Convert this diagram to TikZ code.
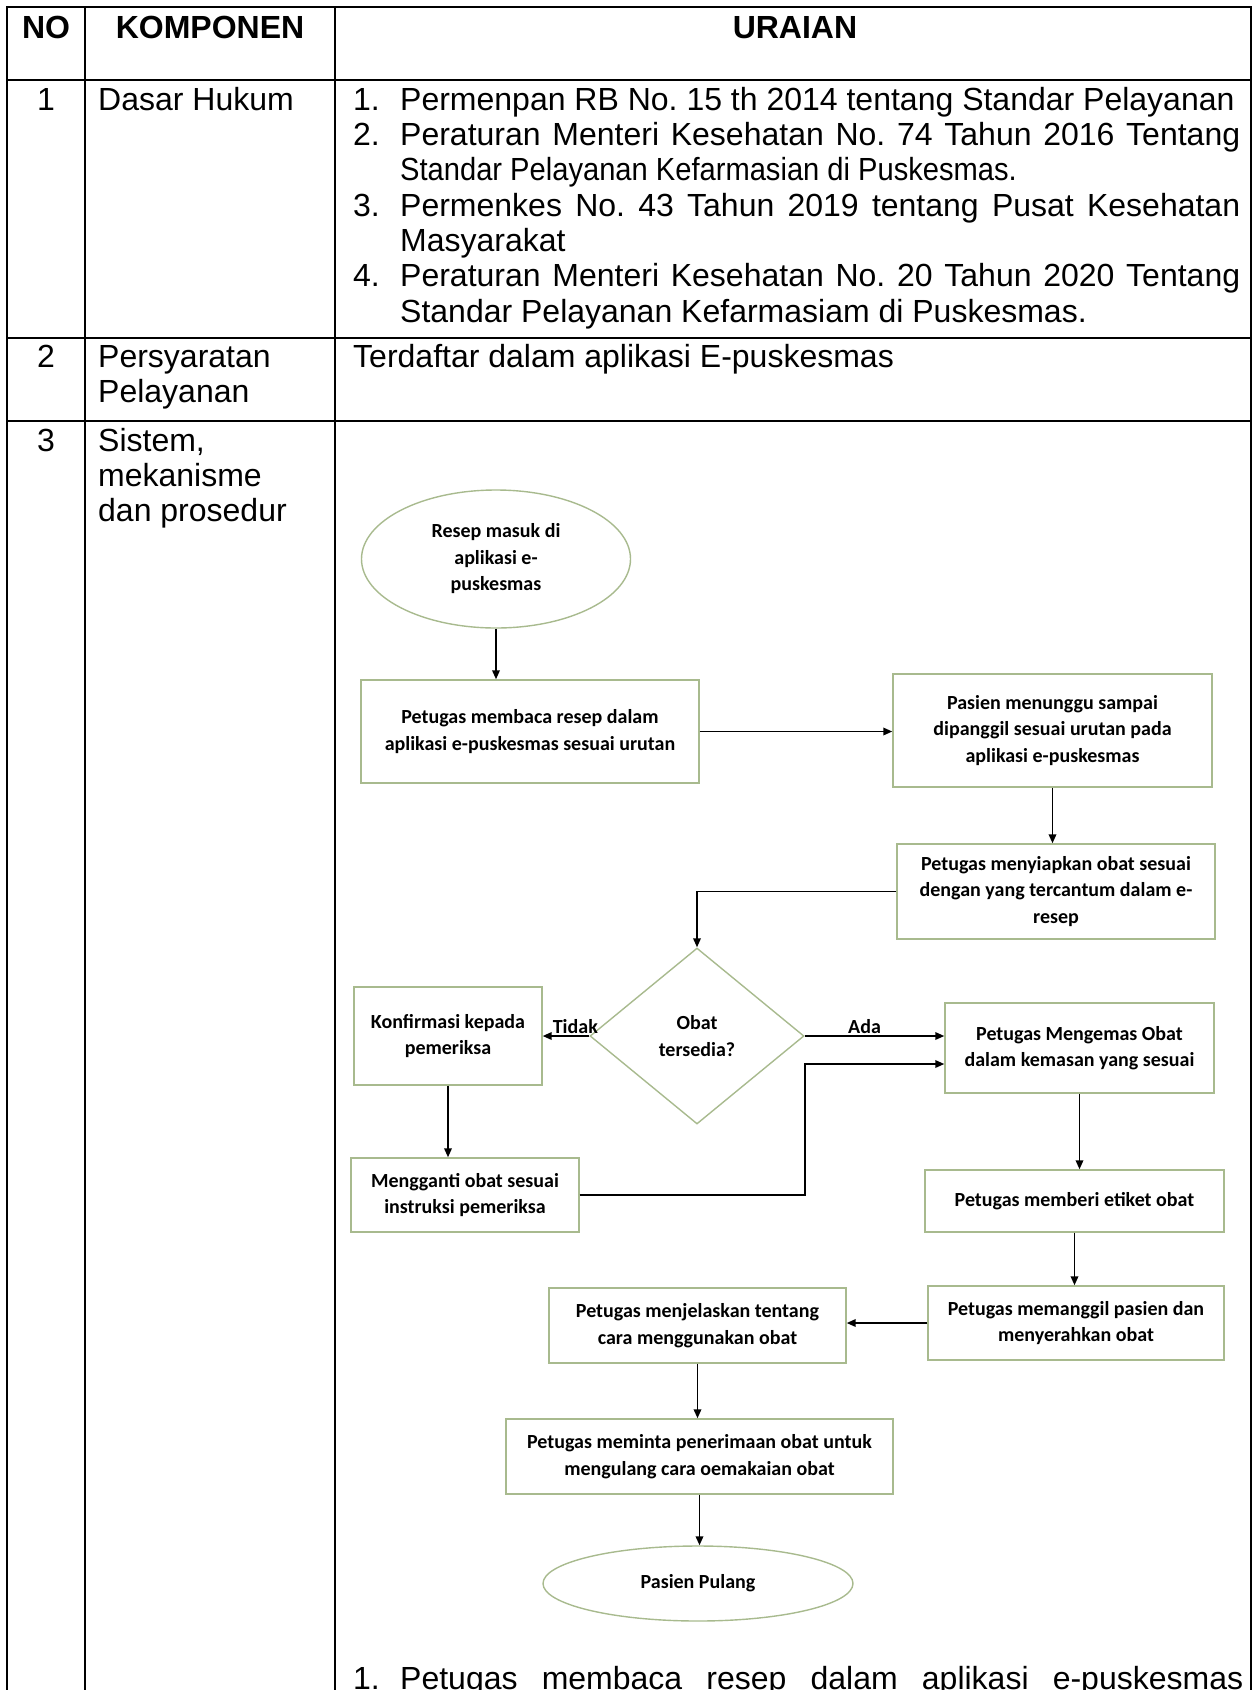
\documentclass[tikz,border=0pt]{standalone}
\usepackage{xcolor}
\usepackage{fontspec}
\setmainfont{Liberation Sans}
\newfontfamily\flowfont{Carlito}
\usepackage{tikz}
\usetikzlibrary{arrows.meta,positioning,shapes.geometric,calc}
\definecolor{flowline}{RGB}{168,186,142}
\frenchspacing

\begin{document}
\begin{tikzpicture}[
  x=1pt, y=-1pt,
  grid/.style={line width=2.2pt, black},
  head/.style={anchor=base, inner sep=0pt, font=\fontsize{32}{35.3}\selectfont\bfseries},
  cell/.style={anchor=base west, inner sep=0pt, font=\fontsize{32}{35.3}\selectfont},
  num/.style={anchor=base, inner sep=0pt, font=\fontsize{32}{35.3}\selectfont},
  box/.style={draw=flowline, line width=1.4pt, align=center, inner sep=2pt, font=\flowfont\bfseries\fontsize{20}{26.5}\selectfont},
  oval/.style={box, ellipse},
  choice/.style={box, diamond},
  arr/.style={-{Triangle[length=9pt, width=7.5pt]}, line width=1.8pt},
  lbl/.style={font=\flowfont\bfseries\fontsize{20}{24}\selectfont, inner sep=1pt}
]
\useasboundingbox (0,0) rectangle (1257,1690);

% Table grid
\draw[grid] (7,1700) -- (7,7) -- (1251,7) -- (1251,1700);
\draw[grid] (85,7) -- (85,1700);
\draw[grid] (335,7) -- (335,1700);
\draw[grid] (7,80) -- (1251,80);
\draw[grid] (7,338) -- (1251,338);
\draw[grid] (7,421) -- (1251,421);

% Header
\node[head] (hNo) at (46,38) {NO};
\node[head] (hKomp) at (210,38) {KOMPONEN};
\node[head] (hUrai) at (795,38) {URAIAN};

% Row 1: Dasar Hukum
\node[num] (no1) at (46,110) {1};
\node[cell] (komp1) at (98,110) {Dasar Hukum};
\node[cell] (i1) at (353,110) {1.};
\node[cell] (t1) at (400,110) {Permenpan RB No. 15 th 2014 tentang Standar Pelayanan};
\node[cell] (i2) at (353,145.3) {2.};
\node[cell] (t2) at (400,145.3) {\makebox[840pt][s]{Peraturan Menteri Kesehatan No. 74 Tahun 2016 Tentang}};
\node[cell] (t2b) at (400,180.7) {\scalebox{0.91}[1]{Standar Pelayanan Kefarmasian di Puskesmas.}};
\node[cell] (i3) at (353,216) {3.};
\node[cell] (t3) at (400,216) {\makebox[840pt][s]{Permenkes No. 43 Tahun 2019 tentang Pusat Kesehatan}};
\node[cell] (t3b) at (400,251.3) {Masyarakat};
\node[cell] (i4) at (353,286.7) {4.};
\node[cell] (t4) at (400,286.7) {\makebox[840pt][s]{Peraturan Menteri Kesehatan No. 20 Tahun 2020 Tentang}};
\node[cell] (t4b) at (400,322) {Standar Pelayanan Kefarmasiam di Puskesmas.};

% Row 2: Persyaratan
\node[num] (no2) at (46,367) {2};
\node[cell] (komp2) at (98,367) {Persyaratan};
\node[cell] (komp2b) at (98,402.3) {Pelayanan};
\node[cell] (syarat) at (353,367) {Terdaftar dalam aplikasi E-puskesmas};

% Row 3: Sistem, mekanisme dan prosedur
\node[num] (no3) at (46,451) {3};
\node[cell] (komp3) at (98,451) {Sistem,};
\node[cell] (komp3b) at (98,486.3) {mekanisme};
\node[cell] (komp3c) at (98,521.6) {dan prosedur};

% Flowchart
\node[oval, minimum width=269pt, minimum height=138pt] (resep) at (496,559) {Resep masuk di\\aplikasi e-\\puskesmas};
\node[box, minimum width=338pt, minimum height=103pt] (baca) at (530,731.5) {Petugas membaca resep dalam\\aplikasi e-puskesmas sesuai urutan};
\node[box, minimum width=319pt, minimum height=113pt] (tunggu) at (1052.5,730.5) {Pasien menunggu sampai\\dipanggil sesuai urutan pada\\aplikasi e-puskesmas};
\node[box, minimum width=318pt, minimum height=95pt] (siap) at (1056,891.5) {Petugas menyiapkan obat sesuai\\dengan yang tercantum dalam e-\\resep};
\node[choice, minimum width=214pt, minimum height=176pt] (cek) at (697,1036) {Obat\\tersedia?};
\node[box, minimum width=188pt, minimum height=98pt] (konf) at (448,1036) {Konfirmasi kepada\\pemeriksa};
\node[box, minimum width=269pt, minimum height=90pt] (kemas) at (1079.5,1048) {Petugas Mengemas Obat\\dalam kemasan yang sesuai};
\node[box, minimum width=228pt, minimum height=74pt] (ganti) at (465,1195) {Mengganti obat sesuai\\instruksi pemeriksa};
\node[box, minimum width=299pt, minimum height=62pt] (etiket) at (1074.5,1201) {Petugas memberi etiket obat};
\node[box, minimum width=296pt, minimum height=74pt] (panggil) at (1076,1323) {Petugas memanggil pasien dan\\menyerahkan obat};
\node[box, minimum width=297pt, minimum height=75pt] (jelas) at (697.5,1325.5) {Petugas menjelaskan tentang\\cara menggunakan obat};
\node[box, minimum width=387pt, minimum height=75pt] (ulang) at (699.5,1456.5) {Petugas meminta penerimaan obat untuk\\mengulang cara oemakaian obat};
\node[oval, minimum width=310pt, minimum height=75pt] (pulang) at (698,1583.5) {Pasien Pulang};

% Connectors
\draw[arr] (resep.south) -- (resep.south |- baca.north);
\draw[arr] (baca.east) -- (baca.east -| tunggu.west);
\draw[arr] (tunggu.south) -- (tunggu.south |- siap.north);
\draw[arr] (siap.west) -| (cek.north);
\draw[arr] (cek.west) -- (konf.east) node[lbl, pos=0.3, above] (tidak) {Tidak};
\draw[arr] (cek.east) -- (cek.east -| kemas.west) node[lbl, midway, above, xshift=-10pt] (ada) {Ada};
\draw[arr] (konf.south) -- (konf.south |- ganti.north);
\draw[arr] (ganti.east) -- (ganti.east -| cek.east) |- ([yshift=-16pt]kemas.west);
\draw[arr] (kemas.south) -- (kemas.south |- etiket.north);
\draw[arr] (etiket.south) -- (etiket.south |- panggil.north);
\draw[arr] (panggil.west) -- (panggil.west -| jelas.east);
\draw[arr] (jelas.south) -- (jelas.south |- ulang.north);
\draw[arr] (ulang.south) -- (ulang.south |- pulang.north);

% Text below the flowchart
\node[cell] (i5) at (353,1689) {1.};
\node[cell] (t5) at (400,1689) {\makebox[843pt][s]{Petugas membaca resep dalam aplikasi e-puskesmas}};

\end{tikzpicture}
\end{document}
